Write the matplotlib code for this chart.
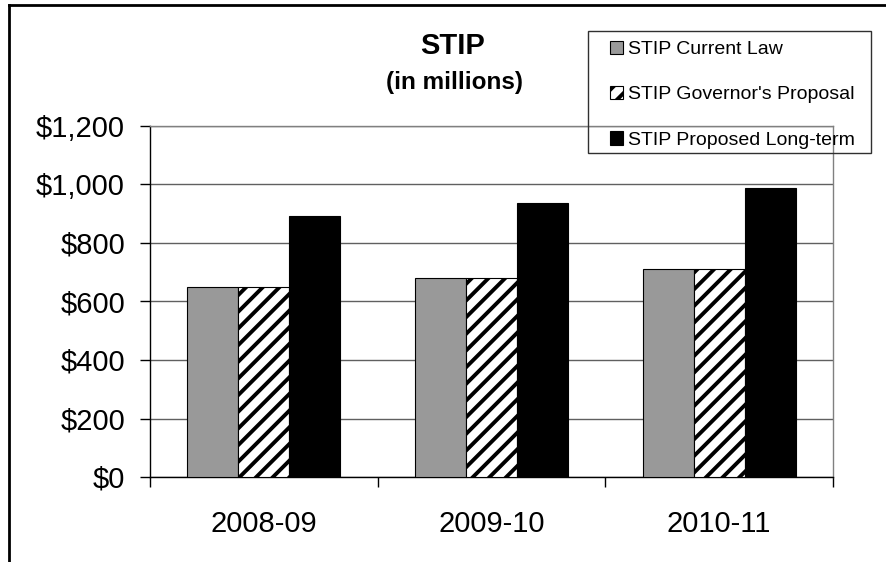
import numpy as np
import matplotlib
matplotlib.use("Agg")
import matplotlib.pyplot as plt
from matplotlib.patches import Rectangle
from matplotlib.lines import Line2D
from matplotlib.ticker import FuncFormatter, FixedLocator

# === DATA ===
years = ["2008-09", "2009-10", "2010-11"]
current_law = [648, 680, 712]
governor = [648, 680, 712]
long_term = [892, 937, 988]
series_names = ["STIP Current Law", "STIP Governor's Proposal", "STIP Proposed Long-term"]
y_ticks = [0, 200, 400, 600, 800, 1000, 1200]

plt.rcParams['font.family'] = ['Liberation Sans', 'DejaVu Sans']
plt.rcParams['hatch.linewidth'] = 2.8
plt.rcParams['hatch.color'] = 'black'

# === FIGURE ===
W, H = 887, 562
fig = plt.figure(figsize=(W / 100, H / 100), dpi=100)
ax = fig.add_axes([150 / W, 1 - 477 / H, (833 - 150) / W, (477 - 126) / H])

x = np.arange(len(years))
w = 0.224
b1 = ax.bar(x - w, current_law, w, color='#999999', edgecolor='black', linewidth=0.8, zorder=3)
b2 = ax.bar(x, governor, w, color='white', edgecolor='black', linewidth=0.8, hatch='//', zorder=3)
b3 = ax.bar(x + w, long_term, w, color='black', edgecolor='black', linewidth=0.8, zorder=3)

ax.set_xlim(-0.5, len(years) - 0.5)
ax.set_ylim(0, 1200)

# y axis
ax.set_yticks(y_ticks)
ax.yaxis.set_major_formatter(FuncFormatter(lambda v, p: f"${v:,.0f}"))
ax.tick_params(axis='y', direction='out', length=7, width=1, pad=11, labelsize=21)
ax.grid(axis='y', color='#606060', linewidth=1, zorder=0)

# x axis: labels at centers, tick marks between categories
ax.set_xticks(x)
ax.set_xticklabels(years)
ax.tick_params(axis='x', which='major', length=0, pad=24, labelsize=21)
ax.xaxis.set_minor_locator(FixedLocator(np.arange(-0.5, len(years), 1.0)))
ax.tick_params(axis='x', which='minor', direction='out', length=7, width=1)

for s in ['left', 'bottom']:
    ax.spines[s].set_color('black')
    ax.spines[s].set_linewidth(1)
for s in ['top', 'right']:
    ax.spines[s].set_color('#808080')
    ax.spines[s].set_linewidth(1)

# title
fig.text(453 / W, 1 - 46 / H, "STIP", ha='center', va='center', fontsize=21, fontweight='bold')
fig.text(455 / W, 1 - 82 / H, "(in millions)", ha='center', va='center', fontsize=17.5, fontweight='bold')

# legend
leg = fig.legend([b1, b2, b3], series_names, loc='upper left',
                 bbox_to_anchor=(596 / W, 1 - 27 / H), frameon=False,
                 fontsize=14, handlelength=0.68, handleheight=0.68,
                 handletextpad=0.28, labelspacing=1.43, borderpad=0.2)
for h in leg.legend_handles:
    h.set_linewidth(0.8)
fig.patches.append(Rectangle((588 / W, 1 - 153 / H), (871 - 588) / W, (153 - 31) / H,
                             transform=fig.transFigure, fill=False,
                             edgecolor='#303030', linewidth=1, zorder=5))

# outer chart border (continues past the right and bottom edges)
fig.add_artist(Line2D([9 / W, 1.0], [1 - 5 / H, 1 - 5 / H], transform=fig.transFigure,
                      color='black', linewidth=2))
fig.add_artist(Line2D([9 / W, 9 / W], [0.0, 1 - 5 / H], transform=fig.transFigure,
                      color='black', linewidth=2))

fig.savefig("out.png", dpi=100)
